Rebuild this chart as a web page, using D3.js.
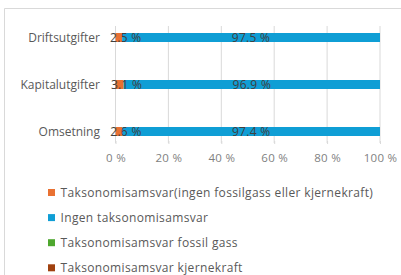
<!DOCTYPE html>
<html><head><meta charset="utf-8">
<script src="https://cdn.jsdelivr.net/npm/d3@7"></script>
<style>
html,body{margin:0;padding:0;background:#fff;}
svg{display:block;font-family:"Open Sans",sans-serif;}
</style></head>
<body><svg id="c" width="401" height="275"></svg>
<script>
const categories = ["Driftsutgifter", "Kapitalutgifter", "Omsetning"];
const seriesNames = ["Taksonomisamsvar(ingen fossilgass eller kjernekraft)", "Ingen taksonomisamsvar", "Taksonomisamsvar fossil gass", "Taksonomisamsvar kjernekraft"];
const seriesColors = ["#E97132", "#0F9ED5", "#4EA72E", "#A0410F"];
const aligned = [2.5, 3.1, 2.6];
const notAligned = [97.5, 96.9, 97.4];
const fossilGas = [0, 0, 0];
const nuclear = [0, 0, 0];
const tickValues = [0, 20, 40, 60, 80, 100];

const svg = d3.select("#c");
// border
svg.append("path").attr("d","M4.5,275 V8.5 H401").attr("fill","none").attr("stroke","#d9d9d9").attr("stroke-width",1);

const x = d3.scaleLinear().domain([0,100]).range([115.5,380]);
const y = d3.scaleBand().domain(categories).range([14,155]).paddingInner(0.8).paddingOuter(0.4);

// gridlines
svg.append("g").selectAll("line").data(tickValues).join("line")
  .attr("x1",d=>x(d)).attr("x2",d=>x(d)).attr("y1",26).attr("y2",143)
  .attr("stroke","#d9d9d9").attr("stroke-width",1);

// axis
const ax = svg.append("g").attr("transform","translate(0,141)")
  .call(d3.axisBottom(x).tickValues(tickValues).tickSize(3).tickFormat(d=>d+" %"));
ax.select(".domain").remove();
ax.selectAll(".tick line").attr("stroke","#d9d9d9");
ax.selectAll(".tick text").attr("fill","#7f7f7f").attr("font-size","11.5px").attr("dy","1.3em")
  .attr("font-family","Open Sans, sans-serif").attr("letter-spacing","0.3px");

// category labels
svg.append("g").selectAll("text").data(categories).join("text")
  .attr("x",100).attr("y",d=>y(d)+y.bandwidth()/2).attr("dy","0.35em")
  .attr("text-anchor","end").attr("fill","#595959").attr("font-size","12px").text(d=>d);

const series = [aligned, notAligned, fossilGas, nuclear];
const rows = categories.map((c,i)=>{
  const o={cat:c}; series.forEach((s,k)=>o["s"+k]=s[i]); return o;});
const stack = d3.stack().keys(series.map((s,k)=>"s"+k))(rows);

const bh = 9;
stack.forEach((layer,k)=>{
  svg.append("g").selectAll("rect").data(layer).join("rect")
    .attr("x",d=>x(d[0])).attr("width",d=>x(d[1])-x(d[0]))
    .attr("y",d=>y(d.data.cat)+y.bandwidth()/2-bh/2).attr("height",bh)
    .attr("fill",seriesColors[k]);
});
// data labels
stack.slice(0,2).forEach((layer,k)=>{
  svg.append("g").selectAll("text").data(layer).join("text")
    .attr("x",d=>(x(d[0])+x(d[1]))/2 + (k===0?7:0))
    .attr("y",d=>y(d.data.cat)+y.bandwidth()/2).attr("dy","0.36em")
    .attr("text-anchor","middle").attr("fill","#404040").attr("font-size","12px").attr("letter-spacing","0.3px")
    .text(d=>d3.format(".1f")(d[1]-d[0])+" %");
});

// legend
const lg = svg.append("g").selectAll("g").data(seriesNames).join("g")
  .attr("transform",(d,i)=>`translate(48,${192.5+i*25.1})`);
lg.append("rect").attr("x",0).attr("y",-3.5).attr("width",7).attr("height",7).attr("fill",(d,i)=>seriesColors[i]);
lg.append("text").attr("x",12.5).attr("dy","0.35em").attr("fill","#595959").attr("font-size","12px").attr("letter-spacing","0.35px").text(d=>d);
</script></body></html>
